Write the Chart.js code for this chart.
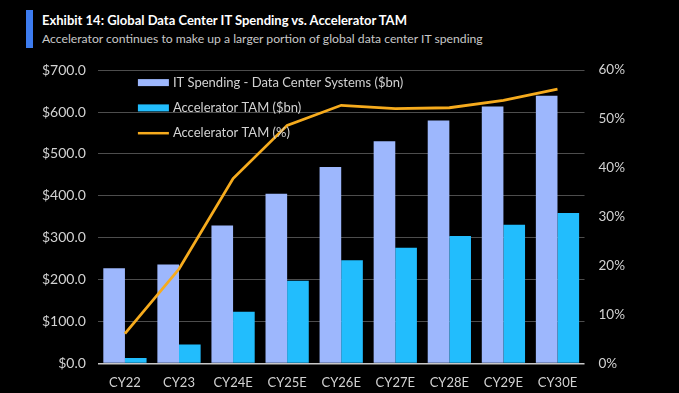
<!DOCTYPE html>
<html>
<head>
<meta charset="utf-8">
<script src="https://cdn.jsdelivr.net/npm/chart.js@4"></script>
<style>
  html, body { margin: 0; padding: 0; background: #000; }
  body { width: 679px; height: 393px; position: relative; overflow: hidden; font-family: Lato, sans-serif; }
  #accent { position: absolute; left: 26px; top: 10px; width: 7px; height: 38px; background: #3d7cf0; }
  #title { position: absolute; left: 42px; top: 12px; color: #fff; font-weight: 700; font-size: 13px; white-space: nowrap; }
  #subtitle { position: absolute; left: 42px; top: 31px; color: #c8c8c8; font-size: 12.2px; white-space: nowrap; }
  #wrap { position: absolute; left: 0; top: 48px; width: 679px; height: 347px; }
</style>
</head>
<body>
<div id="accent"></div>
<div id="title">Exhibit 14: Global Data Center IT Spending vs. Accelerator TAM</div>
<div id="subtitle">Accelerator continues to make up a larger portion of global data center IT spending</div>
<div id="wrap"><canvas id="chart"></canvas></div>
<script>
const categories = ["CY22", "CY23", "CY24E", "CY25E", "CY26E", "CY27E", "CY28E", "CY29E", "CY30E"];
const itSpending = [227, 236, 329, 405, 469, 530, 580, 613, 639];
const acceleratorTam = [13, 45, 123, 197, 246, 276, 304, 331, 359];
const acceleratorPct = [6.1, 19.3, 37.8, 48.7, 52.8, 52.1, 52.3, 53.8, 56.1];
const leftTicks = [0, 100, 200, 300, 400, 500, 600, 700];
const rightTicks = [0, 10, 20, 30, 40, 50, 60];

const TEXT = "#d2d2d2";
const FONT = "Lato, sans-serif";

// legend drawn inside the plot area, top left
const innerLegend = {
  id: "innerLegend",
  afterDraw(chart) {
    const ctx = chart.ctx;
    const x = chart.chartArea.left + 40;
    let y = chart.chartArea.top + 12.5;
    ctx.save();
    ctx.font = "13px " + FONT;
    ctx.textBaseline = "middle";
    chart.data.datasets.forEach(ds => {
      if (ds.type === "line") {
        ctx.strokeStyle = ds.borderColor;
        ctx.lineWidth = 2.5;
        ctx.beginPath();
        ctx.moveTo(x, y);
        ctx.lineTo(x + 31, y);
        ctx.stroke();
      } else {
        ctx.fillStyle = ds.backgroundColor;
        ctx.fillRect(x, y - 3.5, 31, 7);
      }
      ctx.fillStyle = TEXT;
      ctx.fillText(ds.label, x + 35, y);
      y += 25.3;
    });
    ctx.restore();
  }
};

new Chart(document.getElementById("chart"), {
  data: {
    labels: categories,
    datasets: [
      {
        type: "bar",
        label: "IT Spending - Data Center Systems ($bn)",
        data: itSpending,
        backgroundColor: "#9db7fd",
        yAxisID: "y",
        order: 1
      },
      {
        type: "bar",
        label: "Accelerator TAM ($bn)",
        data: acceleratorTam,
        backgroundColor: "#22bdfd",
        yAxisID: "y",
        order: 1
      },
      {
        type: "line",
        label: "Accelerator TAM (%)",
        data: acceleratorPct,
        borderColor: "#f6ab1d",
        borderWidth: 2.8,
        pointRadius: 0,
        tension: 0,
        yAxisID: "y1",
        order: 0
      }
    ]
  },
  options: {
    responsive: true,
    maintainAspectRatio: false,
    animation: false,
    datasets: {
      bar: { categoryPercentage: 0.8, barPercentage: 1.0 }
    },
    layout: { padding: { top: 4.5, left: 30, right: 40, bottom: 0 } },
    plugins: {
      legend: { display: false },
      tooltip: { enabled: false }
    },
    scales: {
      x: {
        grid: { display: false },
        border: { display: false },
        ticks: { color: TEXT, font: { family: FONT, size: 13 }, padding: 4 }
      },
      y: {
        position: "left",
        min: 0,
        max: 700,
        afterBuildTicks: axis => { axis.ticks = leftTicks.map(v => ({ value: v })); },
        grid: {
          color: c => c.tick.value === 0 ? "#c8c8c8" : "#4d4d4d",
          lineWidth: c => c.tick.value === 0 ? 1.5 : 1,
          drawTicks: false
        },
        border: { display: false },
        ticks: {
          color: TEXT,
          font: { family: FONT, size: 14 },
          padding: 12,
          callback: v => "$" + v.toFixed(1)
        }
      },
      y1: {
        position: "right",
        min: 0,
        max: 60,
        afterBuildTicks: axis => { axis.ticks = rightTicks.map(v => ({ value: v })); },
        grid: { display: false, drawTicks: false },
        border: { display: false },
        ticks: {
          color: TEXT,
          font: { family: FONT, size: 13.5 },
          padding: 14,
          callback: v => v + "%"
        }
      }
    }
  },
  plugins: [innerLegend]
});
</script>
</body>
</html>
